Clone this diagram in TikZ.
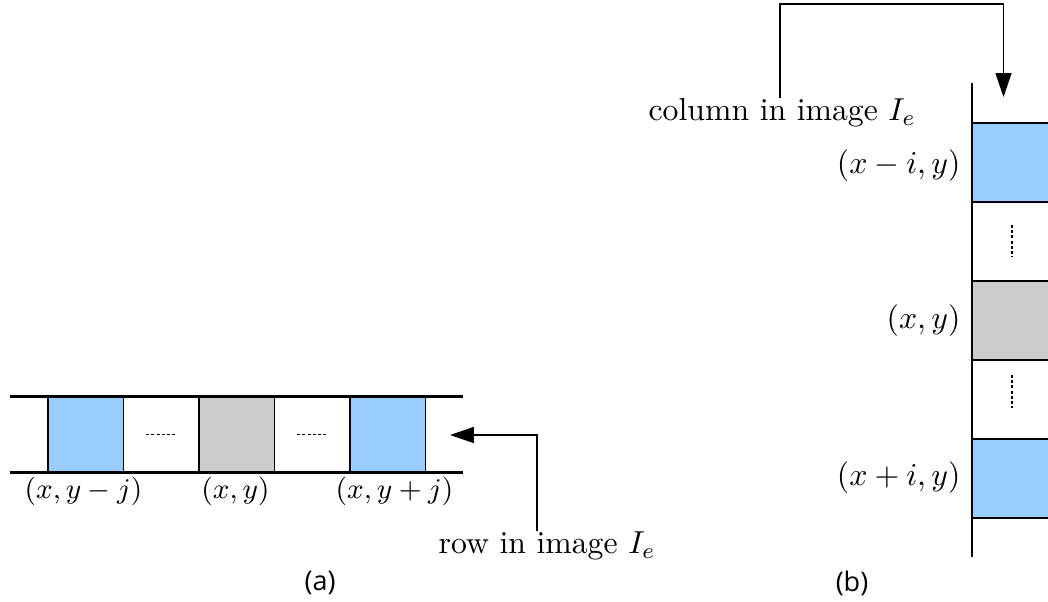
\documentclass[tikz,border=0pt]{standalone}
\usepackage{fontspec}
\newfontfamily\capfont{Open Sans}
\usetikzlibrary{arrows.meta}
\def\px{0.315pt}
\definecolor{cellblue}{RGB}{153,204,255}
\definecolor{cellgray}{RGB}{204,204,204}
\tikzset{
  hcell/.style={draw=black, line width=0.4pt, minimum width=75.5*\px, minimum height=76*\px, inner sep=0pt, outer sep=0pt},
  vcell/.style={draw=black, line width=0.4pt, minimum width=100*\px, minimum height=79*\px, inner sep=0pt, outer sep=0pt, anchor=west},
  dots/.style={line width=0.6pt, dash pattern=on 0.9pt off 0.75pt},
  rail/.style={line width=0.65pt},
  arr/.style={line width=0.5pt, -{Triangle[length=7.5pt, width=5pt]}},
  lbl/.style={inner sep=0pt, font=\small},
  rlbl/.style={inner sep=0pt, anchor=east},
  txt/.style={inner sep=0pt},
  subcap/.style={inner sep=0pt, font=\capfont\fontsize{8.5}{10}\selectfont}
}
\begin{document}
\begin{tikzpicture}[x=0.315pt, y=-0.315pt]
\useasboundingbox (0,0) rectangle (1048,601);
\clip (0,0) rectangle (1048,601);
% ---------- (a) row ----------
\node[hcell, fill=cellblue] (a1) at (85.75,434.5) {};
\node[hcell] (a2) at (161.25,434.5) {};
\node[hcell, fill=cellgray] (a3) at (236.75,434.5) {};
\node[hcell] (a4) at (312.25,434.5) {};
\node[hcell, fill=cellblue] (a5) at (387.75,434.5) {};
\coordinate (rl1) at (10,396.5);
\coordinate (rr1) at (463,396.5);
\coordinate (rl2) at (10,472.5);
\coordinate (rr2) at (463,472.5);
\draw[rail] (rl1) -- (rr1);
\draw[rail] (rl2) -- (rr2);
\draw[dots] ([xshift=-15*\px]a2.center) -- ([xshift=15*\px]a2.center);
\draw[dots] ([xshift=-15*\px]a4.center) -- ([xshift=15*\px]a4.center);
\node[lbl] (la1) at (83.5,491.5) {$(x,y-j)$};
\node[lbl] (la3) at (235.5,491.5) {$(x,y)$};
\node[lbl] (la5) at (394.5,491.5) {$(x,y+j)$};
\node[txt, anchor=north west] (rowlab) at (438,531) {row in image $I_e$};
\coordinate (rowbend) at (537,435);
\coordinate (rowtip) at (450,435);
\draw[arr] (rowlab.north -| rowbend) -- (rowbend) -- (rowtip);
\node[subcap] (capa) at (320,583) {(a)};
% ---------- (b) column ----------
\node[vcell, fill=cellblue] (b1) at (972,162.5) {};
\node[vcell] (b2) at (972,241.5) {};
\node[vcell, fill=cellgray] (b3) at (972,320.5) {};
\node[vcell] (b4) at (972,399.5) {};
\node[vcell, fill=cellblue] (b5) at (972,478.5) {};
\coordinate (ct) at (972,83);
\coordinate (cb) at (972,557);
\draw[rail] (ct) -- (cb);
\coordinate (d2t) at (1012,225);
\coordinate (d2b) at (1012,257);
\coordinate (d4t) at (1012,375);
\coordinate (d4b) at (1012,408);
\draw[dots] (d2t) -- (d2b);
\draw[dots] (d4t) -- (d4b);
\node[rlbl] (lb1) at (961,166) {$(x-i,y)$};
\node[rlbl] (lb3) at (961,321) {$(x,y)$};
\node[rlbl] (lb5) at (961,478) {$(x+i,y)$};
\node[txt, anchor=north west] (collab) at (648,98) {column in image $I_e$};
\coordinate (cstart) at (780,98);
\coordinate (ctop1) at (780,4);
\coordinate (ctop2) at (1003.5,4);
\coordinate (ctip) at (1003.5,97);
\draw[arr] (cstart) -- (ctop1) -- (ctop2) -- (ctip);
\node[subcap] (capb) at (852,583) {(b)};
\end{tikzpicture}
\end{document}
